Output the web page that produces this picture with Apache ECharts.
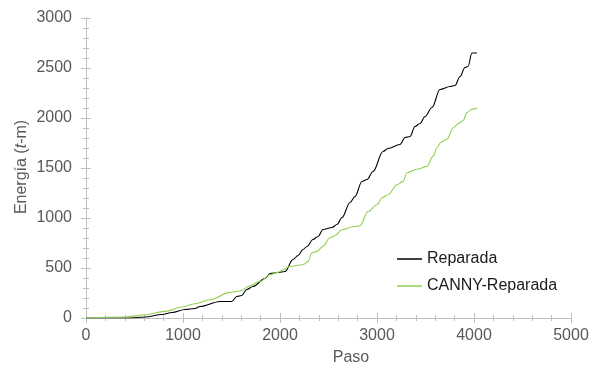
<!DOCTYPE html>
<html>
<head>
<meta charset="utf-8">
<script src="https://cdn.jsdelivr.net/npm/echarts@6/dist/echarts.min.js"></script>
<style>
  html, body { margin: 0; padding: 0; background: #fff; }
  #chart { width: 597px; height: 371px; }
</style>
</head>
<body>
<div id="chart"></div>
<script>
// Energy accumulated per step for the repaired model and the CANNY-repaired model
var repSteps = [0, 433, 608, 784, 887, 1021, 1124, 1175, 1381, 1502, 1554, 1605, 1657, 1722, 1845, 1897, 1979, 2052, 2134, 2186, 2237, 2278, 2340, 2392, 2443, 2536, 2588, 2639, 2722, 2773, 2845, 2897, 2959, 3062, 3113, 3237, 3289, 3340, 3392, 3443, 3495, 3567, 3649, 3753, 3804, 3856, 3907, 3938, 3979, 4031];
var repEnergy = [0, 0, 10, 35, 55, 85, 95, 115, 165, 165, 215, 225, 285, 315, 395, 445, 455, 465, 585, 625, 685, 715, 785, 815, 885, 905, 935, 1005, 1155, 1215, 1365, 1385, 1465, 1665, 1695, 1735, 1805, 1815, 1915, 1945, 2015, 2105, 2285, 2315, 2325, 2415, 2505, 2515, 2650, 2650];

var cannySteps = [0, 402, 608, 814, 990, 1124, 1278, 1485, 1588, 1691, 1794, 1897, 1979, 2031, 2103, 2237, 2289, 2330, 2381, 2443, 2515, 2567, 2639, 2753, 2825, 2907, 3000, 3052, 3113, 3206, 3268, 3309, 3420, 3515, 3577, 3619, 3660, 3722, 3784, 3840, 3887, 3928, 3970, 4031];
var cannyEnergy = [0, 10, 33, 66, 110, 143, 183, 256, 270, 323, 366, 433, 456, 483, 516, 533, 566, 653, 666, 716, 803, 823, 883, 913, 923, 1066, 1133, 1203, 1233, 1333, 1366, 1453, 1490, 1516, 1616, 1703, 1760, 1790, 1900, 1945, 1975, 2055, 2085, 2100];

var xTicks = [0, 1000, 2000, 3000, 4000, 5000];
var yTicks = [0, 500, 1000, 1500, 2000, 2500, 3000];

var seriesNames = ['Reparada', 'CANNY-Reparada'];

function pairs(xs, ys) {
  return xs.map(function (x, i) { return [x, ys[i]]; });
}

var axisGray = '#bfbfbf';
var labelGray = '#595959';
var fontFam = '"Liberation Sans", Arial, sans-serif';

// plain integers, no thousands separator
function plain(v) { return String(v); }

function xAxisDef(inside, showLabel) {
  return {
    type: 'value', position: 'bottom',
    min: xTicks[0], max: xTicks[xTicks.length - 1], interval: 1000,
    axisLine: { show: true, lineStyle: { color: axisGray, width: 1 } },
    axisTick: { show: true, inside: inside, length: 5, lineStyle: { color: axisGray } },
    minorTick: { show: true, splitNumber: 5, length: 3, lineStyle: { color: axisGray } },
    axisLabel: { show: showLabel, color: labelGray, fontSize: 16, fontFamily: fontFam, margin: 10, formatter: plain },
    splitLine: { show: false }
  };
}
function yAxisDef(inside, showLabel) {
  return {
    type: 'value', position: 'left',
    min: yTicks[0], max: yTicks[yTicks.length - 1], interval: 500,
    axisLine: { show: true, lineStyle: { color: axisGray, width: 1 } },
    axisTick: { show: true, inside: inside, length: 5, lineStyle: { color: axisGray } },
    minorTick: { show: true, splitNumber: 5, length: 3, lineStyle: { color: axisGray } },
    axisLabel: { show: showLabel, color: labelGray, fontSize: 16, fontFamily: fontFam, margin: 14, formatter: plain },
    splitLine: { show: false }
  };
}

var chart = echarts.init(document.getElementById('chart'), null, { renderer: 'canvas' });
chart.setOption({
  animation: false,
  backgroundColor: '#ffffff',
  grid: { left: 86, right: 26, top: 18, bottom: 53, containLabel: false },
  xAxis: [xAxisDef(false, true), xAxisDef(true, false)],
  yAxis: [yAxisDef(false, true), yAxisDef(true, false)],
  legend: {
    orient: 'vertical',
    left: 397, top: 251, padding: 0,
    itemWidth: 25, itemHeight: 1.5, itemGap: 11,
    icon: 'rect',
    textStyle: { color: '#1a1a1a', fontSize: 16, fontFamily: fontFam, lineHeight: 16 },
    data: seriesNames
  },
  series: [
    {
      name: seriesNames[0], type: 'line', xAxisIndex: 0, yAxisIndex: 0,
      data: pairs(repSteps, repEnergy),
      showSymbol: false, symbol: 'none', smooth: 0.35, smoothMonotone: 'x',
      lineStyle: { color: '#000000', width: 1.1 }, itemStyle: { color: '#000000' }
    },
    {
      name: seriesNames[1], type: 'line', xAxisIndex: 0, yAxisIndex: 0,
      data: pairs(cannySteps, cannyEnergy),
      showSymbol: false, symbol: 'none', smooth: 0.35, smoothMonotone: 'x',
      lineStyle: { color: '#92d050', width: 1.1 }, itemStyle: { color: '#92d050' }
    }
  ],
  graphic: [
    {
      type: 'text', x: 351, y: 358,
      style: {
        text: 'Paso', fill: labelGray, font: '16px ' + fontFam,
        textAlign: 'center', textVerticalAlign: 'middle'
      }
    },
    {
      type: 'text', x: 22, y: 167, rotation: Math.PI / 2,
      style: {
        text: '{n|Energía (}{i|t}{n|-m)}',
        textAlign: 'center', textVerticalAlign: 'middle',
        rich: {
          n: { fill: labelGray, fontSize: 16, fontFamily: fontFam },
          i: { fill: labelGray, fontSize: 16, fontFamily: fontFam, fontStyle: 'italic' }
        }
      }
    }
  ]
});
</script>
</body>
</html>
